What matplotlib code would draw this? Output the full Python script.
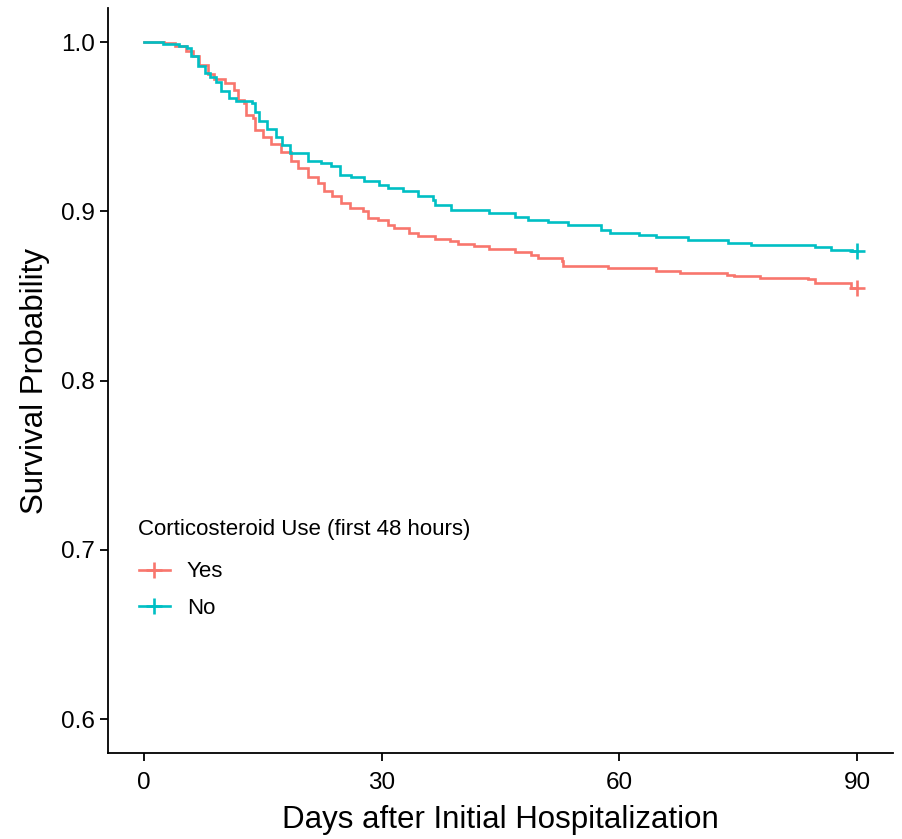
import matplotlib.pyplot as plt
from matplotlib.lines import Line2D

plt.rcParams['font.family'] = ['Liberation Sans', 'DejaVu Sans']

# Kaplan-Meier step points (day, survival)
yes_days = [0, 2.6, 4.0, 5.3, 6.2, 7.0, 8.1, 8.9, 10.2, 11.4, 11.9, 12.7, 12.9, 13.8, 14.0,
            15.0, 16.1, 17.3, 18.6, 19.4, 20.7, 22.0, 22.8, 23.8, 24.9, 26.0, 27.6, 28.3,
            29.5, 30.8, 31.6, 33.5, 34.6, 36.7, 38.6, 39.6, 41.7, 43.6, 46.8, 48.9, 49.7,
            52.7, 52.9, 58.5, 64.6, 67.6, 73.5, 74.5, 77.7, 83.8, 84.6, 89.2, 90]
yes_surv = [1.0, 0.9994, 0.998, 0.995, 0.992, 0.9865, 0.9815, 0.978, 0.9757, 0.9717, 0.966,
            0.964, 0.957, 0.955, 0.948, 0.944, 0.940, 0.935, 0.930, 0.9256, 0.9206, 0.9168,
            0.9118, 0.909, 0.905, 0.902, 0.900, 0.896, 0.895, 0.892, 0.890, 0.887, 0.8857,
            0.8838, 0.8824, 0.8808, 0.8794, 0.878, 0.876, 0.8745, 0.8726, 0.8706, 0.868,
            0.8667, 0.8647, 0.8637, 0.8627, 0.8617, 0.8608, 0.8598, 0.8578, 0.8548, 0.8548]

no_days = [0, 2.4, 4.5, 5.5, 6.0, 6.8, 7.7, 8.3, 9.1, 9.8, 10.8, 11.6, 13.6, 14.0, 14.6,
           15.6, 16.7, 17.5, 18.5, 20.7, 22.3, 23.6, 24.7, 26.1, 27.8, 29.7, 30.8, 32.7,
           34.6, 36.5, 36.7, 38.8, 43.6, 46.8, 48.5, 51.0, 53.5, 57.7, 58.8, 62.5, 64.6,
           68.6, 73.7, 76.6, 84.6, 86.7, 89.3, 90]
no_surv = [1.0, 0.9988, 0.9976, 0.9965, 0.992, 0.986, 0.982, 0.9796, 0.9766, 0.971, 0.967,
           0.9654, 0.964, 0.959, 0.9536, 0.949, 0.944, 0.939, 0.9346, 0.930, 0.9286, 0.9266,
           0.9216, 0.9206, 0.918, 0.9155, 0.9138, 0.9118, 0.909, 0.907, 0.904, 0.901, 0.899,
           0.897, 0.895, 0.8936, 0.892, 0.889, 0.887, 0.8863, 0.8847, 0.883, 0.8814, 0.880,
           0.8788, 0.8775, 0.8765, 0.8765]

groups = ['Yes', 'No']
colors = ['#F8766D', '#00BFC4']
x_ticks = [0, 30, 60, 90]
y_ticks = [0.6, 0.7, 0.8, 0.9, 1.0]

fig = plt.figure(figsize=(9.03, 8.39), dpi=100)
ax = fig.add_axes([0.1196, 0.1025, 0.8694, 0.8875])

for days, surv, col in [(yes_days, yes_surv, colors[0]), (no_days, no_surv, colors[1])]:
    ax.step(days, surv, where='post', color=col, lw=1.9, solid_joinstyle='miter')
    ax.plot(days[-1], surv[-1], marker='+', color=col, ms=11, mew=1.9)

ax.set_xlim(-4.5, 94.5)
ax.set_ylim(0.58, 1.02)
ax.set_xticks(x_ticks)
ax.set_yticks(y_ticks)
ax.set_xticklabels([str(t) for t in x_ticks])
ax.set_yticklabels([f'{t:.1f}' for t in y_ticks])
ax.tick_params(labelsize=17.5, length=5.5, width=1.3, colors='black')
ax.tick_params(axis='x', pad=8)
ax.tick_params(axis='y', pad=4)
for s in ['top', 'right']:
    ax.spines[s].set_visible(False)
for s in ['left', 'bottom']:
    ax.spines[s].set_linewidth(1.3)

ax.set_xlabel('Days after Initial Hospitalization', fontsize=22.5, labelpad=8)
ax.set_ylabel('Survival Probability', fontsize=22.5, labelpad=8)

# legend title drawn separately so the gap to the entries can match
fig.text(138 / 903, 1 - 530 / 839, 'Corticosteroid Use (first 48 hours)',
         fontsize=16, ha='left', va='center')
handles = [Line2D([], [], color=c, lw=1.9, marker='+', ms=11, mew=1.9) for c in colors]
leg = ax.legend(handles, groups, loc='upper left', bbox_to_anchor=(0.1415, 0.344),
                bbox_transform=fig.transFigure, frameon=False, fontsize=16,
                handlelength=1.4, labelspacing=0.7, borderpad=0, handletextpad=0.75)

fig.savefig('out.png', dpi=100)
